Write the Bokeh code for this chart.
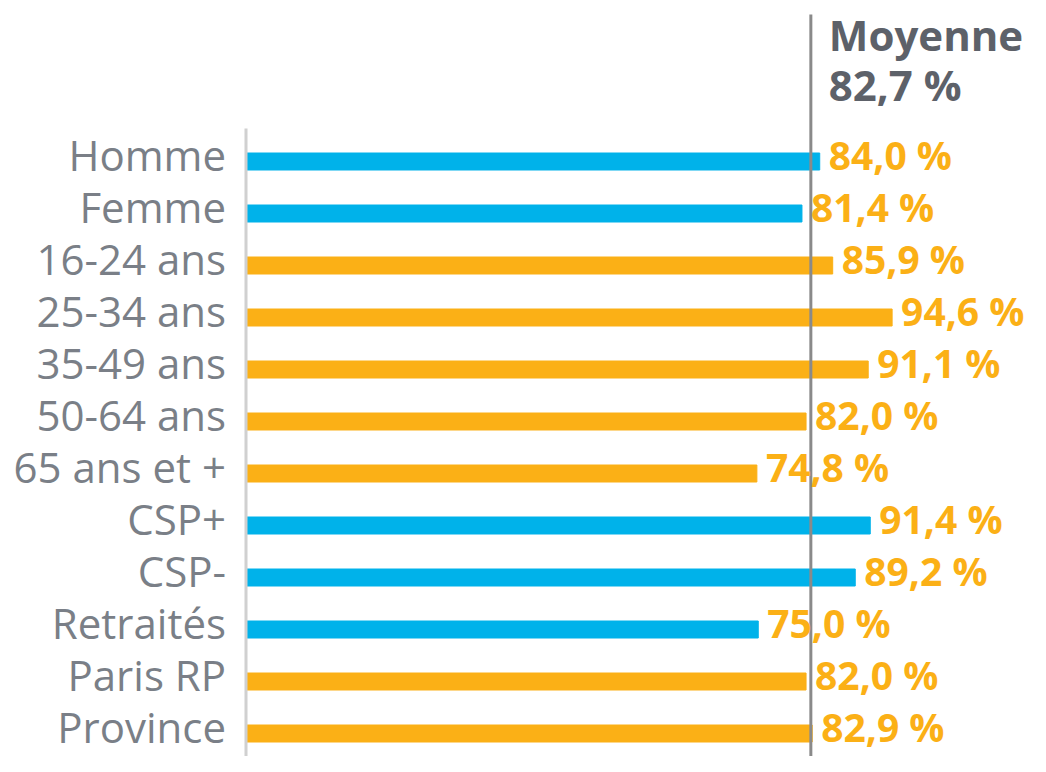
from bokeh.plotting import figure
from bokeh.models import Range1d, ColumnDataSource
from bokeh.core.properties import value
from bokeh.embed import file_html
from bokeh.resources import INLINE

categories = ["Homme", "Femme", "16-24 ans", "25-34 ans", "35-49 ans", "50-64 ans",
              "65 ans et +", "CSP+", "CSP-", "Retraités", "Paris RP", "Province"]
values = [84.0, 81.4, 85.9, 94.6, 91.1, 82.0, 74.8, 91.4, 89.2, 75.0, 82.0, 82.9]
groups = ["sexe", "sexe", "age", "age", "age", "age", "age",
          "csp", "csp", "csp", "region", "region"]
mean_value = 82.7
mean_title = "Moyenne"

BLUE = "#00b2ea"
ORANGE = "#fbb016"
group_colors = {"sexe": BLUE, "csp": BLUE, "age": ORANGE, "region": ORANGE}

def fmt(v):
    return f"{v:.1f}".replace(".", ",") + " %"

W, H = 1030, 756
px_per_unit = 6.83
x0_px = 245.5
row_px = 52.0
row0_px = 161.0

x_start = -x0_px / px_per_unit
x_end = (W - x0_px) / px_per_unit
y_top = -row0_px / row_px
y_bottom = (H - row0_px) / row_px

src = ColumnDataSource(dict(
    y=list(range(len(categories))),
    cat=categories,
    val=values,
    color=[group_colors[g] for g in groups],
    label=[fmt(v) for v in values],
))

p = figure(width=W, height=H, output_backend="svg", toolbar_location=None,
           x_range=Range1d(x_start, x_end), y_range=Range1d(y_bottom, y_top),
           x_axis_location=None, y_axis_location=None,
           min_border=0, min_border_left=0, min_border_right=0,
           min_border_top=0, min_border_bottom=0)
p.outline_line_color = None
p.grid.visible = False
p.background_fill_color = "white"

bar_h = 17 / row_px
p.hbar(y="y", left=0, right="val", height=bar_h, color="color", source=src)

# left axis line
p.segment(x0=[0], x1=[0], y0=[y_top + 128 / row_px], y1=[y_bottom],
          line_color="#d0d0d0", line_width=3)
# mean line
p.segment(x0=[mean_value], x1=[mean_value], y0=[y_top + 14 / row_px], y1=[y_bottom],
          line_color="#8a8a8a", line_width=3)

p.text(x=0, y="y", text="cat", source=src, x_offset=-20, y_offset=-7.5,
       text_align="right", text_baseline="alphabetic",
       text_font=value("Open Sans"), text_font_size="42px", text_color="#7a7f87")

p.text(x="val", y="y", text="label", source=src, x_offset=9, y_offset=-7.5,
       text_align="left", text_baseline="alphabetic",
       text_font=value("Open Sans"), text_font_size="39px", text_font_style="bold",
       text_color=ORANGE)

p.text(x=[mean_value], y=[0], text=[mean_title], x_offset=18, y_offset=-127,
       text_align="left", text_baseline="alphabetic",
       text_font=value("Open Sans"), text_font_size="42px", text_font_style="bold",
       text_color="#5d6169")
p.text(x=[mean_value], y=[0], text=[fmt(mean_value)], x_offset=18, y_offset=-77,
       text_align="left", text_baseline="alphabetic",
       text_font=value("Open Sans"), text_font_size="42px", text_font_style="bold",
       text_color="#5d6169")

open("out.html", "w").write(file_html(p, INLINE))
